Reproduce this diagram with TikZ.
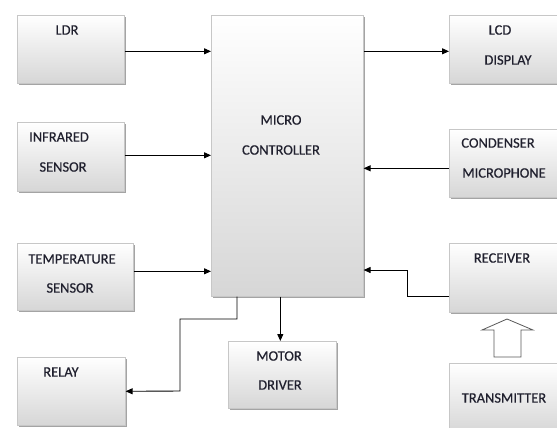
\documentclass[tikz,border=0pt]{standalone}
\usepackage{fontspec}
\setmainfont{Carlito}
\newfontfamily\lblfont{Carlito}[FakeBold=0.6]
\usetikzlibrary{arrows.meta,shadows}
\definecolor{txt}{RGB}{32,32,46}
\begin{document}
\begin{tikzpicture}[x=1bp,y=-1bp,
  blk/.style={draw=black!22, line width=0.6bp, top color=white, bottom color=black!16,
    drop shadow={shadow xshift=1.2bp, shadow yshift=-2bp, fill=black!55, opacity=0.65},
    inner sep=0pt, anchor=north west},
  lbl/.style={font=\lblfont\fontsize{14.5}{17}\selectfont, text=txt, inner sep=0pt},
  con/.style={line width=0.9bp, -{Triangle[length=7bp,width=6bp]}}]
\useasboundingbox (0,0) rectangle (557,427);
% blocks
\node[blk, minimum width=107bp, minimum height=68bp] (ldr) at (17,15) {};
\node[blk, minimum width=107bp, minimum height=69bp] (ir) at (17,122) {};
\node[blk, minimum width=116bp, minimum height=67bp] (temp) at (17,243) {};
\node[blk, minimum width=108bp, minimum height=68bp] (relay) at (17,357) {};
\node[blk, minimum width=108bp, minimum height=67bp] (motor) at (228,341) {};
\node[blk, minimum width=152bp, minimum height=281bp] (mc) at (211,15) {};
\node[blk, minimum width=110bp, minimum height=68bp] (lcd) at (449,15) {};
\node[blk, minimum width=110bp, minimum height=68bp] (cond) at (449,129) {};
\node[blk, minimum width=110bp, minimum height=69bp] (recv) at (449,243) {};
\node[blk, minimum width=110bp, minimum height=70bp] (trans) at (449,363) {};
% labels
\node[lbl] (tldr) at (67,30) {LDR};
\node[lbl] (tir1) at (59,137) {INFRARED};
\node[lbl] (tir2) at (63,167) {SENSOR};
\node[lbl] (ttemp1) at (72,259) {TEMPERATURE};
\node[lbl] (ttemp2) at (70,288) {SENSOR};
\node[lbl] (trelay) at (61,372) {RELAY};
\node[lbl] (tmot1) at (279,356) {MOTOR};
\node[lbl] (tmot2) at (280,385) {DRIVER};
\node[lbl] (tmc1) at (281,120) {MICRO};
\node[lbl] (tmc2) at (281,150) {CONTROLLER};
\node[lbl] (tlcd1) at (500,30) {LCD};
\node[lbl] (tlcd2) at (508,60) {DISPLAY};
\node[lbl] (tcond1) at (498,143) {CONDENSER};
\node[lbl] (tcond2) at (504,173) {MICROPHONE};
\node[lbl] (trecv) at (502,258) {RECEIVER};
\node[lbl] (ttrans) at (504,398) {TRANSMITTER};
% connectors
\draw[con] ([yshift=-2bp]ldr.east) -- ([yshift=-2bp]ldr.east -| mc.west);
\draw[con] ([yshift=1.5bp]ir.east) -- ([yshift=1.5bp]ir.east -| mc.west);
\draw[con] ([yshift=5.5bp]temp.east) -- ([yshift=5.5bp]temp.east -| mc.west);
\draw[con] ([yshift=-2bp]lcd.west -| mc.east) -- ([yshift=-2bp]lcd.west);
\draw[con] ([yshift=-5bp]cond.west) -- ([yshift=-5bp]cond.west -| mc.east);
\coordinate (rbend) at (407,270);
\draw[con] ([yshift=-18.5bp]recv.west) -| (rbend) -- (rbend -| mc.east);
\draw[con] ([xshift=-2bp]motor.north |- mc.south) -- ([xshift=-2bp]motor.north);
\coordinate (rl1) at (237,319);
\coordinate (rl2) at (180,391);
\draw[con] (rl1 |- mc.south) -- (rl1) -| (rl2) -- (relay.east);
% hollow arrow transmitter -> receiver
\draw[black!65, fill=white, line width=0.8bp]
  (507,319) -- (533,330) -- (521,330) -- (521,357) -- (494,357) -- (494,330) -- (482,330) -- cycle;
\end{tikzpicture}
\end{document}
